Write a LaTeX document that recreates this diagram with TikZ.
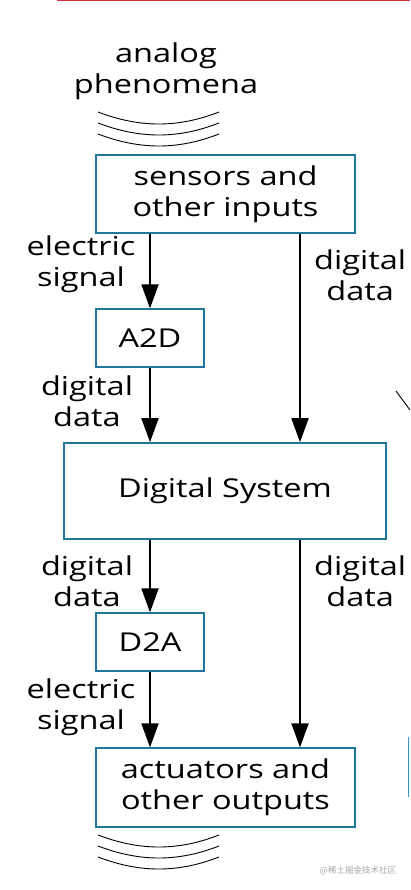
\documentclass[tikz,border=0pt]{standalone}
\usepackage{fontspec}
\setmainfont{Open Sans}[FakeStretch=1.25]
\newfontfamily\cjk{Noto Sans CJK SC}
\usetikzlibrary{arrows.meta}
\definecolor{boxteal}{RGB}{30,118,158}
\definecolor{edgered}{RGB}{208,52,56}
\definecolor{edgeblue}{RGB}{52,146,204}

\begin{document}
\begin{tikzpicture}[
    x=1pt, y=-1pt,
    box/.style={
        draw=boxteal,
        line width=1.2pt,
        inner sep=0pt,
        align=center,
        font=\fontsize{26}{31}\selectfont
    },
    lbl/.style={
        align=center,
        inner sep=0pt,
        font=\fontsize{26}{31}\selectfont
    },
    arrow/.style={
        -{Triangle[length=24pt,width=17pt]},
        line width=1.8pt
    },
    wave/.style={
        line width=0.9pt
    }
]
\useasboundingbox (0,0) rectangle (410,890);

% Nodes
\node (sensors) [box, minimum width=259pt, minimum height=78pt] at (225.5,194) {sensors and\\other inputs};
\node (atod)    [box, minimum width=108pt, minimum height=58pt] at (150,338) {A2D};
\node (digital) [box, line width=1.6pt, minimum width=322pt, minimum height=96pt] at (225,491) {Digital System};
\node (dtoa)    [box, minimum width=108pt, minimum height=58pt] at (150,642) {D2A};
\node (actuators)[box, minimum width=259pt, minimum height=79pt] at (225.5,787.5) {actuators and\\other outputs};
\coordinate (rcol) at (300,0);

% Labels
\node (phen)   [lbl] at (166,71) {analog\\phenomena};
\node (esigA)  [lbl] at (81,264) {electric\\signal};
\node (ddataA) [lbl] at (87,401) {digital\\data};
\node (ddataR) [lbl, anchor=west] at (314,275) {digital\\data};
\node (ddataB) [lbl] at (87,581) {digital\\data};
\node (ddataS) [lbl, anchor=west] at (314,581) {digital\\data};
\node (esigB)  [lbl] at (81,707) {electric\\signal};

% Arrows
\draw[arrow] (sensors.south -| atod) -- (atod);
\draw[arrow] (atod) -- (digital.north -| atod);
\draw[arrow] (sensors.south -| rcol) -- (digital.north -| rcol);
\draw[arrow] (digital.south -| dtoa) -- (dtoa);
\draw[arrow] (dtoa) -- (actuators.north -| dtoa);
\draw[arrow] (digital.south -| rcol) -- (actuators.north -| rcol);

% Waves
\foreach \dy in {0,11,22} {
    \draw[wave] (98,112+\dy) .. controls (140,128+\dy) and (178,128+\dy) .. (219,112+\dy);
    \draw[wave] (98,835+\dy) .. controls (140,851+\dy) and (178,851+\dy) .. (219,835+\dy);
}

% Edges of the page
\draw[edgered, line width=2pt] (57,0.5) -- (410,0.5);
\draw[line width=0.9pt] (396,391) -- (410,410);
\draw[edgeblue, line width=1.5pt] (408.5,737) -- (408.5,797);
\node (mark) [text=black!35, inner sep=0pt, font=\cjk\fontsize{8.5}{10}\selectfont] at (358,871) {@稀土掘金技术社区};

\end{tikzpicture}
\end{document}
